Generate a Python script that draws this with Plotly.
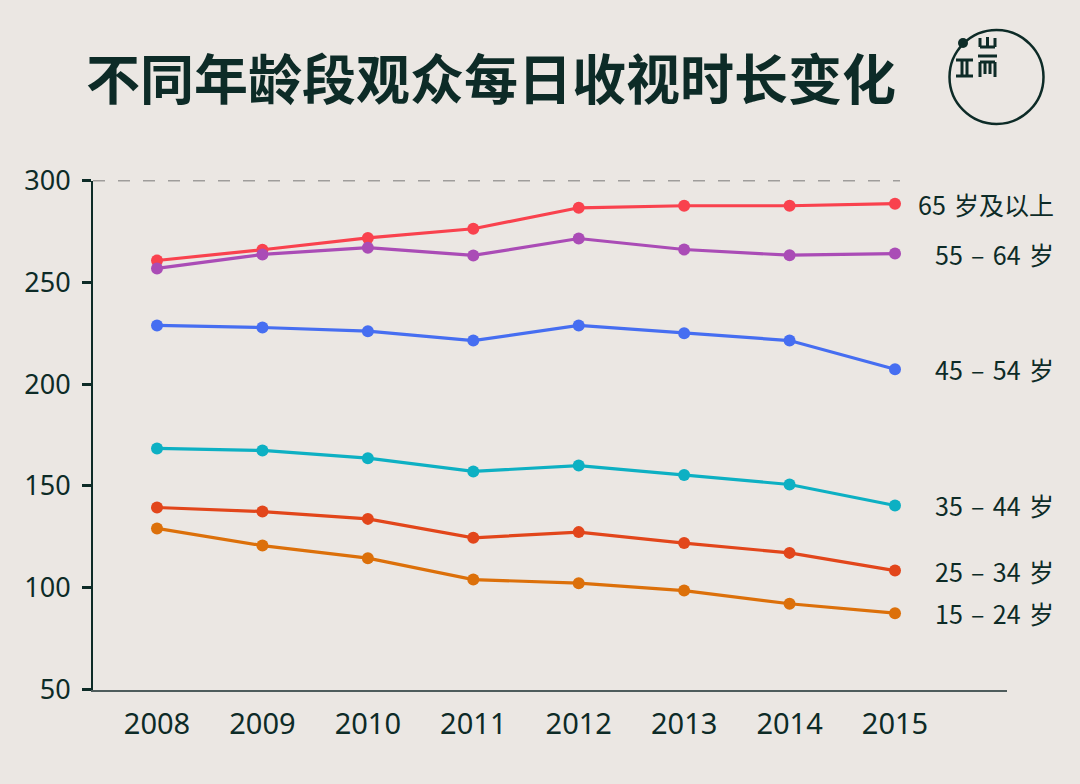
import plotly.graph_objects as go

W, H = 1080, 784

years = [2008, 2009, 2010, 2011, 2012, 2013, 2014, 2015]
series_names = ["65 岁及以上", "55 – 64 岁", "45 – 54 岁", "35 – 44 岁", "25 – 34 岁", "15 – 24 岁"]
v65 = [260.7, 266.0, 271.8, 276.3, 286.6, 287.6, 287.6, 288.6]
v55 = [256.8, 263.7, 267.0, 263.2, 271.5, 266.1, 263.3, 264.1]
v45 = [228.8, 227.8, 226.0, 221.4, 228.8, 225.0, 221.4, 207.3]
v35 = [168.4, 167.4, 163.6, 157.1, 160.0, 155.4, 150.7, 140.4]
v25 = [139.4, 137.4, 133.8, 124.5, 127.3, 121.9, 117.1, 108.4]
v15 = [129.1, 120.7, 114.5, 104.0, 102.2, 98.6, 92.1, 87.5]
series_values = [v65, v55, v45, v35, v25, v15]
colors = ["#f9424e", "#aa4cb6", "#466ef1", "#0db0c3", "#e2461b", "#dc700a"]
y_ticks = [50, 100, 150, 200, 250, 300]
title_text = "不同年龄段观众每日收视时长变化"

INK = "#0d2b27"
BG = "#ebe7e3"

def px(x):
    return x / W

def py(y):
    return 1 - y / H

fig = go.Figure()
for name, vals, c in zip(series_names, series_values, colors):
    fig.add_trace(go.Scatter(
        x=years, y=vals, mode="lines+markers", name=name,
        line=dict(color=c, width=3.2),
        marker=dict(color=c, size=12),
        showlegend=False, hoverinfo="x+y+name"))
    label = name.replace(" ", "\u2004")
    fig.add_annotation(x=px(1056), xref="paper", y=vals[-1], yref="y",
                       text=label, showarrow=False, xanchor="right", yanchor="middle",
                       font=dict(family="Noto Sans CJK SC", size=25, color=INK))

# x domain px 93..1007, 2008 at 157, 2015 at 895
step = (895 - 157) / 7
x_lo = 2008 - (157 - 93) / step
x_hi = 2015 + (1007 - 895) / step

fig.update_layout(
    width=W, height=H,
    margin=dict(l=0, r=0, t=0, b=0, autoexpand=False),
    paper_bgcolor=BG, plot_bgcolor="rgba(0,0,0,0)",
    xaxis=dict(domain=[px(93), px(1007)], range=[x_lo, x_hi], automargin=False,
               tickmode="array", tickvals=years, ticktext=[str(y) for y in years],
               showgrid=False, zeroline=False,
               showline=True, linecolor="#4e5c5c", linewidth=1.5,
               ticks="", ticklabelstandoff=8,
               tickfont=dict(family="Noto Sans", size=29, color=INK)),
    yaxis=dict(domain=[py(689.5), py(180.5)], range=[50, 300], automargin=False,
               tickmode="array", tickvals=y_ticks,
               showgrid=False, zeroline=False,
               showline=True, linecolor=INK, linewidth=2,
               ticks="outside", ticklen=9, tickwidth=3, tickcolor=INK,
               ticklabelstandoff=6,
               tickfont=dict(family="Noto Sans", size=27, color=INK)),
)

# dashed reference line at 300
fig.add_shape(type="line", xref="x", yref="y", x0=x_lo, x1=2015 + 5 / step, y0=300, y1=300,
              line=dict(color="#555", width=1.4, dash="12px,13px"), layer="below")

# title
fig.add_annotation(x=px(84), y=py(77), xref="paper", yref="paper", text="<b>" + title_text + "</b>",
                   showarrow=False, xanchor="left", yanchor="middle",
                   font=dict(family="Noto Sans CJK SC", size=54, color=INK))

# logo
cx, cy, r = 996.5, 77, 47
fig.add_shape(type="circle", xref="paper", yref="paper",
              x0=px(cx - r), x1=px(cx + r), y0=py(cy + r), y1=py(cy - r),
              line=dict(color=INK, width=2.5))
fig.add_shape(type="circle", xref="paper", yref="paper",
              x0=px(958), x1=px(968), y0=py(48), y1=py(38),
              fillcolor=INK, line=dict(color=INK, width=0))
logo_lines = [
    (956, 60, 973, 60), (956, 76, 973, 76), (962, 60, 962, 76), (967, 60, 967, 76),
    (980, 47, 995, 47), (980, 38, 980, 47), (987.5, 37, 987.5, 47), (995, 38, 995, 47),
    (978, 56, 997, 56), (980, 62, 995, 62), (980, 62, 980, 77), (995, 62, 995, 77),
    (985, 62, 985, 74), (990, 62, 990, 74),
]
for x0, y0, x1, y1 in logo_lines:
    fig.add_shape(type="line", xref="paper", yref="paper",
                  x0=px(x0), y0=py(y0), x1=px(x1), y1=py(y1),
                  line=dict(color=INK, width=3))

fig.write_html("out.html", config={"displayModeBar": False},
               post_script="document.body.style.margin='0';document.body.style.overflow='hidden';")
